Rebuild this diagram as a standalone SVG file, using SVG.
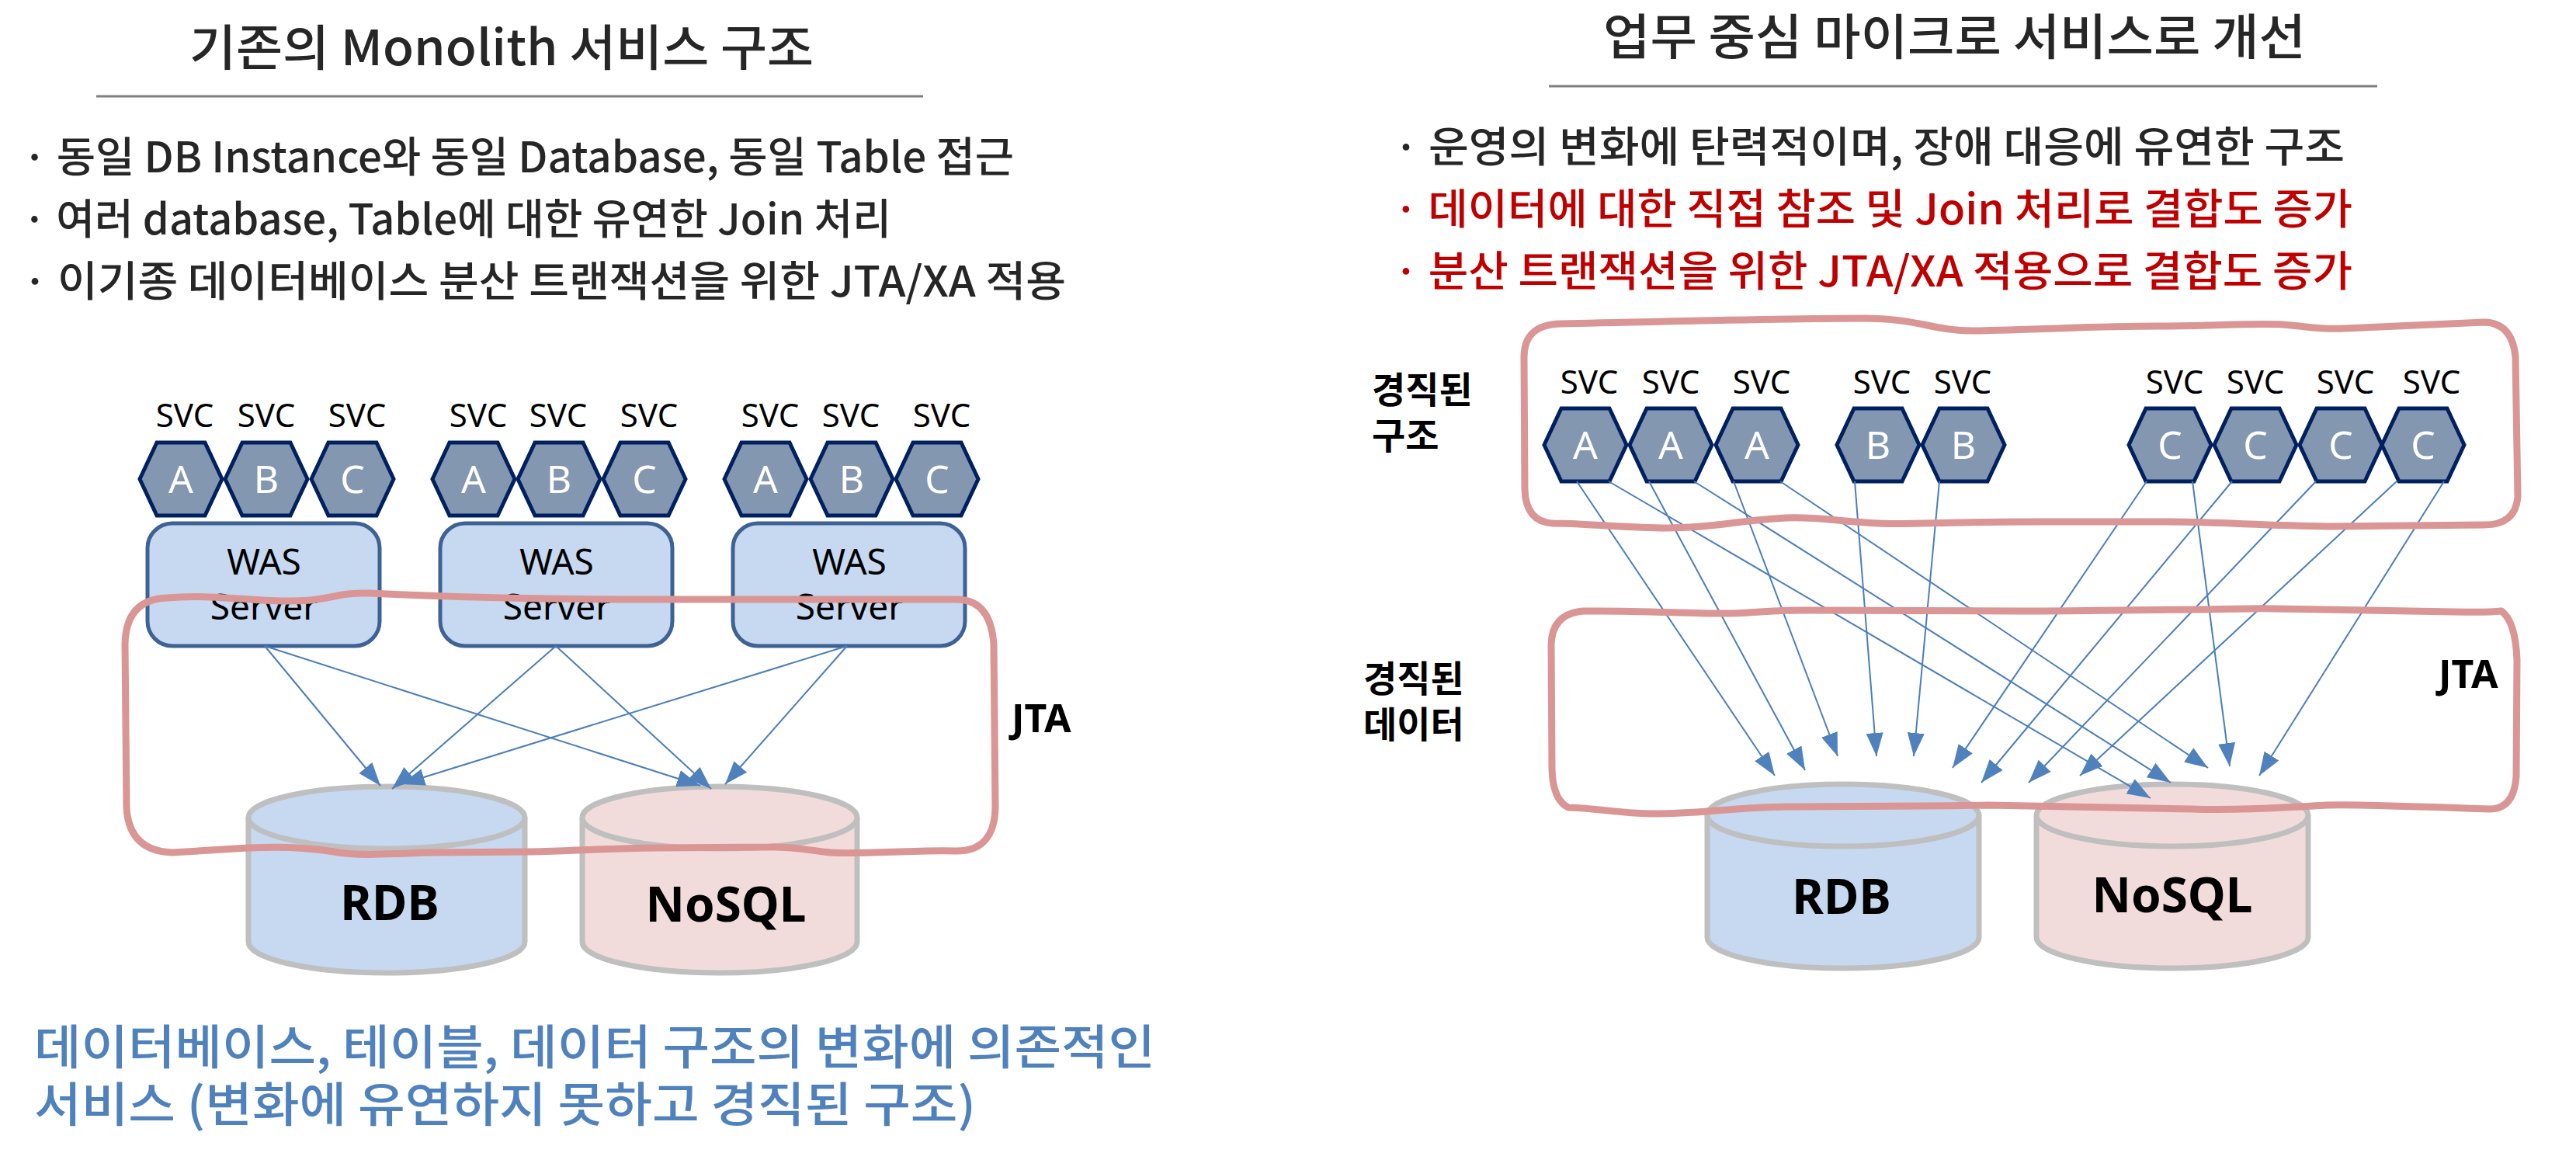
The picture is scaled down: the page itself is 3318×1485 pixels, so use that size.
<svg xmlns="http://www.w3.org/2000/svg" width="3318" height="1485" viewBox="0 0 3318 1485">
<style>
.kr{font-family:"Noto Sans CJK KR","Noto Sans",sans-serif;}
.title{font-size:63px;fill:#262626;font-weight:500;}
.bul{font-size:54px;fill:#262626;font-weight:500;}
.red{fill:#C00000;}
.blue{font-size:61px;fill:#4F81BD;font-weight:500;}
.side{font-size:47px;font-weight:bold;fill:#000;}
.lat{font-family:"Noto Sans","Open Sans",sans-serif;}
.svc{font-size:42px;fill:#000;text-anchor:middle;}
.hexl{font-size:50px;fill:#fff;text-anchor:middle;}
.was{font-size:46px;fill:#000;text-anchor:middle;}
.db{font-size:62px;font-weight:bold;fill:#000;text-anchor:middle;}
.jta{font-size:50px;font-weight:bold;fill:#000;}
.hex{fill:#8497B0;stroke:#002060;stroke-width:5;}
.wasbox{fill:#C6D9F1;stroke:#3E6293;stroke-width:5;}
.rdb{fill:#C6D9F1;stroke:#BFBFBF;stroke-width:7;}
.nosql{fill:#F2DCDB;stroke:#BFBFBF;stroke-width:7;}
.conn line{stroke:#4A7EBB;stroke-width:2;marker-end:url(#ah);}
.outline{fill:none;stroke:#D99694;stroke-width:9;stroke-linejoin:round;}
.rule{stroke:#7F7F7F;stroke-width:3;}
</style>
<defs>
<polygon id="hx" points="-53,0 -31,-47 31,-47 53,0 31,47 -31,47"/>
<marker id="ah" markerUnits="userSpaceOnUse" markerWidth="32" markerHeight="24" refX="30" refY="12" orient="auto"><path d="M0,1 L30,12 L0,23 z" fill="#4F81BD"/></marker>
</defs>
<rect width="3318" height="1485" fill="#fff"/>

<!-- Left header -->
<g id="left-title">
<text class="kr title" x="244" y="84" textLength="804" lengthAdjust="spacingAndGlyphs">기존의 Monolith 서비스 구조</text>
<line class="rule" x1="124" y1="124" x2="1189" y2="124"/>
</g>
<g id="left-bullets">
<text class="kr bul" x="29" y="222" textLength="1277" lengthAdjust="spacingAndGlyphs">· 동일 DB Instance와 동일 Database, 동일 Table 접근</text>
<text class="kr bul" x="29" y="302" textLength="1119" lengthAdjust="spacingAndGlyphs">· 여러 database, Table에 대한 유연한 Join 처리</text>
<text class="kr bul" x="29" y="382" textLength="1344" lengthAdjust="spacingAndGlyphs">· 이기종 데이터베이스 분산 트랜잭션을 위한 JTA/XA 적용</text>
</g>

<!-- Right header -->
<g id="right-title">
<text class="kr title" x="2065" y="70" textLength="905" lengthAdjust="spacingAndGlyphs">업무 중심 마이크로 서비스로 개선</text>
<line class="rule" x1="1995" y1="111" x2="3062" y2="111"/>
</g>
<g id="right-bullets">
<text class="kr bul" x="1795" y="209" textLength="1225" lengthAdjust="spacingAndGlyphs">· 운영의 변화에 탄력적이며, 장애 대응에 유연한 구조</text>
<text class="kr bul red" x="1795" y="289" textLength="1235" lengthAdjust="spacingAndGlyphs">· 데이터에 대한 직접 참조 및 Join 처리로 결합도 증가</text>
<text class="kr bul red" x="1795" y="369" textLength="1235" lengthAdjust="spacingAndGlyphs">· 분산 트랜잭션을 위한 JTA/XA 적용으로 결합도 증가</text>
</g>

<!-- Left services -->
<g id="left-svc-g1">
<text class="lat svc" x="238" y="550">SVC</text><text class="lat svc" x="343" y="550">SVC</text><text class="lat svc" x="460" y="550">SVC</text>
<use href="#hx" class="hex" x="233" y="617"/><use href="#hx" class="hex" x="343" y="617"/><use href="#hx" class="hex" x="454" y="617"/>
<text class="lat hexl" x="233" y="635">A</text><text class="lat hexl" x="343" y="635">B</text><text class="lat hexl" x="454" y="635">C</text>
</g>
<g id="left-svc-g2">
<text class="lat svc" x="616" y="550">SVC</text><text class="lat svc" x="719" y="550">SVC</text><text class="lat svc" x="836" y="550">SVC</text>
<use href="#hx" class="hex" x="610" y="617"/><use href="#hx" class="hex" x="720" y="617"/><use href="#hx" class="hex" x="830" y="617"/>
<text class="lat hexl" x="610" y="635">A</text><text class="lat hexl" x="720" y="635">B</text><text class="lat hexl" x="830" y="635">C</text>
</g>
<g id="left-svc-g3">
<text class="lat svc" x="992" y="550">SVC</text><text class="lat svc" x="1096" y="550">SVC</text><text class="lat svc" x="1213" y="550">SVC</text>
<use href="#hx" class="hex" x="986" y="617"/><use href="#hx" class="hex" x="1097" y="617"/><use href="#hx" class="hex" x="1207" y="617"/>
<text class="lat hexl" x="986" y="635">A</text><text class="lat hexl" x="1097" y="635">B</text><text class="lat hexl" x="1207" y="635">C</text>
</g>
<g id="was1"><rect class="wasbox" x="190" y="674" width="299" height="158" rx="32"/><text class="lat was" x="340" y="740">WAS</text><text class="lat was" x="340" y="798">Server</text></g>
<g id="was2"><rect class="wasbox" x="567" y="674" width="299" height="158" rx="32"/><text class="lat was" x="717" y="740">WAS</text><text class="lat was" x="717" y="798">Server</text></g>
<g id="was3"><rect class="wasbox" x="944" y="674" width="299" height="158" rx="32"/><text class="lat was" x="1094" y="740">WAS</text><text class="lat was" x="1094" y="798">Server</text></g>

<g id="left-rdb">
<path class="rdb" d="M320,1053 L320,1213 A178,40 0 0 0 676,1213 L676,1053"/>
<ellipse class="rdb" cx="498" cy="1053" rx="178" ry="40"/>
<text class="lat db" x="502" y="1185">RDB</text>
</g>
<g id="left-nosql">
<path class="nosql" d="M750,1053 L750,1213 A177,40 0 0 0 1104,1213 L1104,1053"/>
<ellipse class="nosql" cx="927" cy="1053" rx="177" ry="40"/>
<text class="lat db" x="935" y="1187">NoSQL</text>
</g>

<!-- Right services -->
<g id="right-svc-a">
<text class="lat svc" x="2047" y="507">SVC</text><text class="lat svc" x="2152" y="507">SVC</text><text class="lat svc" x="2269" y="507">SVC</text>
<use href="#hx" class="hex" x="2042" y="573"/><use href="#hx" class="hex" x="2152" y="573"/><use href="#hx" class="hex" x="2263" y="573"/>
<text class="lat hexl" x="2042" y="591">A</text><text class="lat hexl" x="2152" y="591">A</text><text class="lat hexl" x="2263" y="591">A</text>
</g>
<g id="right-svc-b">
<text class="lat svc" x="2424" y="507">SVC</text><text class="lat svc" x="2528" y="507">SVC</text>
<use href="#hx" class="hex" x="2419" y="573"/><use href="#hx" class="hex" x="2529" y="573"/>
<text class="lat hexl" x="2419" y="591">B</text><text class="lat hexl" x="2529" y="591">B</text>
</g>
<g id="right-svc-c">
<text class="lat svc" x="2801" y="507">SVC</text><text class="lat svc" x="2905" y="507">SVC</text><text class="lat svc" x="3021" y="507">SVC</text><text class="lat svc" x="3132" y="507">SVC</text>
<use href="#hx" class="hex" x="2795" y="573"/><use href="#hx" class="hex" x="2905" y="573"/><use href="#hx" class="hex" x="3015" y="573"/><use href="#hx" class="hex" x="3121" y="573"/>
<text class="lat hexl" x="2795" y="591">C</text><text class="lat hexl" x="2905" y="591">C</text><text class="lat hexl" x="3015" y="591">C</text><text class="lat hexl" x="3121" y="591">C</text>
</g>
<g id="right-rdb">
<path class="rdb" d="M2199,1050 L2199,1207 A175,40 0 0 0 2549,1207 L2549,1050"/>
<ellipse class="rdb" cx="2374" cy="1050" rx="175" ry="40"/>
<text class="lat db" x="2372" y="1177">RDB</text>
</g>
<g id="right-nosql">
<path class="nosql" d="M2623,1050 L2623,1207 A175,40 0 0 0 2973,1207 L2973,1050"/>
<ellipse class="nosql" cx="2798" cy="1050" rx="175" ry="40"/>
<text class="lat db" x="2798" y="1175">NoSQL</text>
</g>

<!-- Connectors -->
<g id="connectors" class="conn">
<line x1="341" y1="832" x2="490" y2="1012"/>
<line x1="716" y1="832" x2="505" y2="1016"/>
<line x1="1091" y1="832" x2="517" y2="1010"/>
<line x1="341" y1="832" x2="902" y2="1012"/>
<line x1="716" y1="832" x2="916" y2="1016"/>
<line x1="1091" y1="832" x2="934" y2="1010"/>
<line x1="2031" y1="620" x2="2286" y2="999"/>
<line x1="2072" y1="620" x2="2770" y2="1028"/>
<line x1="2124" y1="620" x2="2325" y2="992"/>
<line x1="2182" y1="620" x2="2796" y2="1008"/>
<line x1="2233" y1="620" x2="2367" y2="974"/>
<line x1="2293" y1="620" x2="2844" y2="989"/>
<line x1="2389" y1="620" x2="2417" y2="974"/>
<line x1="2498" y1="620" x2="2465" y2="974"/>
<line x1="2765" y1="620" x2="2515" y2="989"/>
<line x1="2824" y1="620" x2="2872" y2="987"/>
<line x1="2875" y1="620" x2="2552" y2="1008"/>
<line x1="2983" y1="620" x2="2613" y2="1008"/>
<line x1="3087" y1="620" x2="2679" y2="999"/>
<line x1="3148" y1="620" x2="2910" y2="999"/>
</g>

<!-- Outlines -->
<g id="left-jta">
<path class="outline" d="M215,770 C280,764 340,778 400,773 C430,770 440,763 475,764 C600,770 700,772 840,772 L1232,772 Q1276,772 1280,830 L1282,1040 Q1281,1096 1232,1096 C1180,1094 1110,1101 1070,1098 C1040,1095 1020,1090 990,1091 L850,1092 C760,1093 720,1097 680,1097 L560,1098 C520,1098 470,1104 430,1097 C400,1092 360,1090 320,1092 L222,1098 Q166,1096 163,1040 L161,830 Q162,772 215,770 Z"/>
<text class="lat jta" x="1303" y="943">JTA</text>
</g>
<g id="right-structure">
<path class="outline" d="M2010,417 C2150,414 2300,410 2400,410 C2470,410 2490,426 2540,426 C2640,424 2700,420 2780,420 C2850,420 2900,416 2940,418 C2970,420 2990,425 3020,423 L3200,415 Q3236,416 3240,460 L3243,640 Q3240,676 3200,676 L3000,678 C2900,676 2850,672 2780,672 L2620,672 C2500,672 2460,676 2420,674 C2370,672 2340,665 2300,667 C2240,670 2200,681 2140,680 C2080,679 2040,674 2000,674 Q1965,672 1964,630 L1963,460 Q1963,418 2010,417 Z"/>
<text class="kr side" x="1767" y="519">경직된</text>
<text class="kr side" x="1767" y="578">구조</text>
</g>
<g id="right-jta">
<path class="outline" d="M2040,787 C2120,786 2180,791 2230,790 C2270,789 2290,785 2330,786 L2600,787 C2700,787 2780,785 2830,785 C2870,785 2900,783 2930,784 L3160,788 Q3205,789 3222,787 Q3240,800 3242,850 L3241,1000 Q3238,1042 3207,1042 C3100,1038 3040,1036 2997,1037 C2940,1040 2880,1044 2823,1042 L2561,1037 C2450,1039 2380,1038 2299,1039 C2220,1041 2180,1049 2125,1048 C2080,1047 2050,1040 2020,1040 Q2000,1030 1999,990 L1998,830 Q1999,790 2040,787 Z"/>
<text class="lat jta" x="3141" y="886">JTA</text>
<text class="kr side" x="1756" y="891">경직된</text>
<text class="kr side" x="1756" y="950">데이터</text>
</g>

<g id="left-caption">
<text class="kr blue" x="44" y="1371" textLength="1444" lengthAdjust="spacingAndGlyphs">데이터베이스, 테이블, 데이터 구조의 변화에 의존적인</text>
<text class="kr blue" x="44" y="1445" textLength="1213" lengthAdjust="spacingAndGlyphs">서비스 (변화에 유연하지 못하고 경직된 구조)</text>
</g>
</svg>
